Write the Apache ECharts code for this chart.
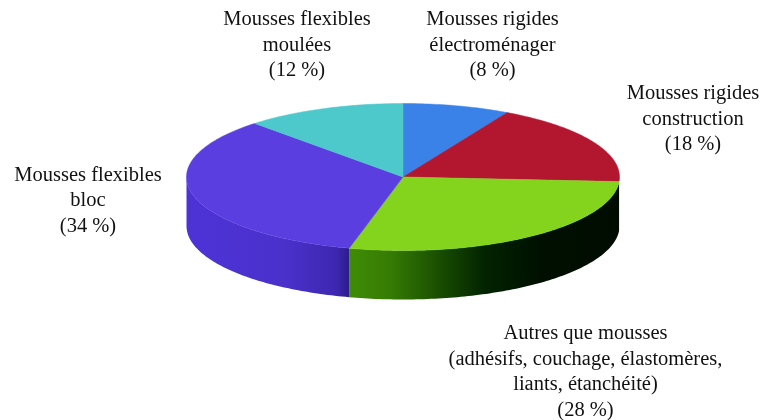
<!DOCTYPE html>
<html>
<head>
<meta charset="utf-8">
<style>
  html, body { margin: 0; padding: 0; background: #fff; }
  #chart { width: 762px; height: 420px; }
</style>
<script src="https://cdn.jsdelivr.net/npm/echarts@6/dist/echarts.min.js"></script>
</head>
<body>
<div id="chart"></div>
<script>
const categories = [
  'Mousses rigides\nélectroménager',
  'Mousses rigides\nconstruction',
  'Autres que mousses\n(adhésifs, couchage, élastomères,\nliants, étanchéité)',
  'Mousses flexibles\nbloc',
  'Mousses flexibles\nmoulées'
]
const shares = [8, 18, 28, 34, 12]

const topColors = ['#3b82e8', '#b3162f', '#84d41e', '#5b3ee0', '#4dc9cc']
const sideStops = [
  null,
  null,
  [[0, '#3f8c06'], [0.15, '#367c04'], [0.35, '#164a00'], [0.5, '#032400'], [0.7, '#001000'], [1, '#000c00']],
  [[0, '#4d33d6'], [0.6, '#4a31cc'], [0.92, '#3d27b0'], [1, '#2d1c8a']],
  null
]
// centre of each label block, same order as categories
const labelPos = [[492.5, 45.5], [693, 119.5], [585.5, 372], [88, 201], [297, 45.5]]

const cx = 403
const cy = 177
const rx = 216.5
const ry = 73.5
const depth = 49

const total = shares.reduce( ( a, b ) => a + b, 0 )
const starts = shares.map( ( v, i ) => shares.slice( 0, i ).reduce( ( a, b ) => a + b, 0 ) / total * 360 )

// 0 deg is 12 o'clock, going clockwise round the ellipse
const rimPoint = ( deg, dy = 0 ) => {
  const a = deg * Math.PI / 180
  return [cx + rx * Math.sin( a ), cy - ry * Math.cos( a ) + dy]
}

const arcPoints = ( from, to, dy = 0 ) => {
  const pts = []
  const n = Math.max( 2, Math.ceil( to - from ) )
  for ( let i = 0; i <= n; i++ ) {
    pts.push( rimPoint( from + ( to - from ) * i / n, dy ) )
  }
  return pts
}

const renderSide = ( params, api ) => {
  const i = params.dataIndex
  const from = Math.max( starts[i], 90 )
  const to = Math.min( starts[i] + api.value( 0 ) / total * 360, 270 )
  if ( to <= from || !sideStops[i] ) {
    return null
  }
  const points = arcPoints( from, to ).concat( arcPoints( from, to, depth ).reverse() )
  const colorStops = sideStops[i].map( s => ( { offset : s[0], color : s[1] } ) )
  return {
    type : 'polygon',
    shape : { points },
    style : {
      fill : new echarts.graphic.LinearGradient( 0, 0, 1, 0, colorStops )
    }
  }
}

const renderTop = ( params, api ) => {
  const i = params.dataIndex
  const from = starts[i]
  const to = from + api.value( 0 ) / total * 360
  const fill = topColors[i]
  return {
    type : 'group',
    children : [
      {
        type : 'polygon',
        shape : { points : [[cx, cy]].concat( arcPoints( from, to ) ) },
        style : { fill, stroke : fill, lineWidth : 0.5 }
      },
      {
        type : 'text',
        style : {
          text : categories[i] + '\n(' + api.value( 0 ) + ' %)',
          x : labelPos[i][0],
          y : labelPos[i][1],
          align : 'center',
          verticalAlign : 'middle',
          fill : '#111',
          font : '20.5px "Liberation Serif"',
          lineHeight : 25.6
        }
      }
    ]
  }
}

const chart = echarts.init( document.getElementById( 'chart' ) )
chart.setOption( {
  backgroundColor : '#fff',
  animation : false,
  series : [
    {
      type : 'custom',
      coordinateSystem : 'none',
      renderItem : renderSide,
      data : shares,
      silent : true
    },
    {
      type : 'custom',
      coordinateSystem : 'none',
      renderItem : renderTop,
      data : shares,
      silent : true
    }
  ]
} )
</script>
</body>
</html>
